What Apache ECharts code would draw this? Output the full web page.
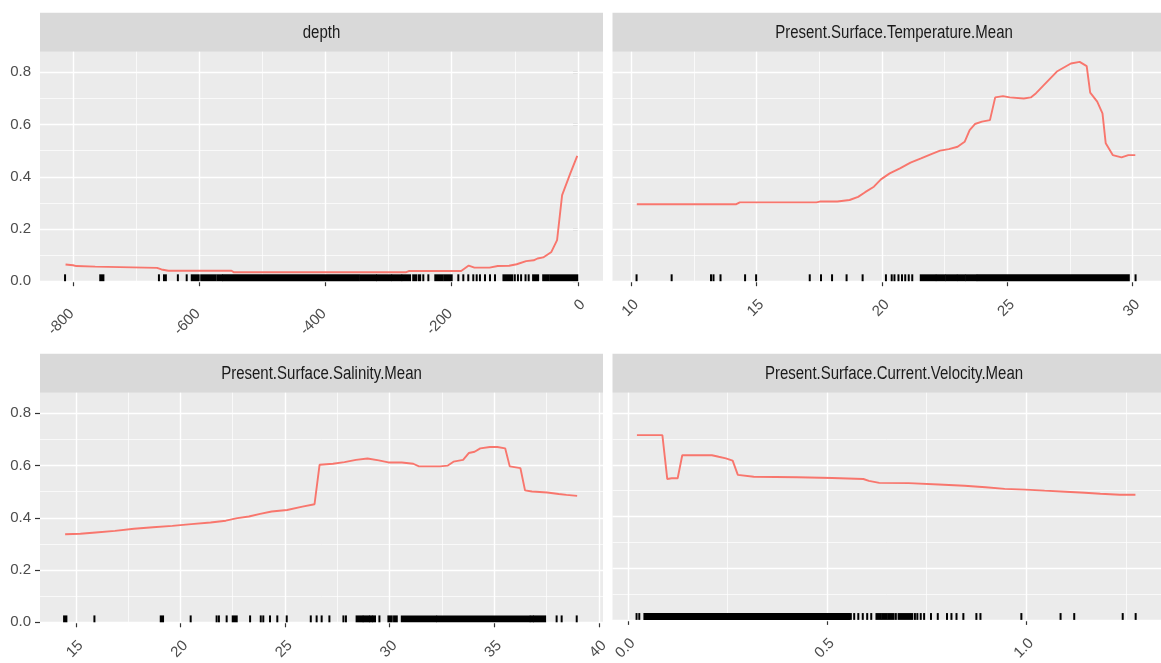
<!DOCTYPE html>
<html><head><meta charset="utf-8">
<script src="https://cdn.jsdelivr.net/npm/echarts@6/dist/echarts.min.js"></script>
<style>html,body{margin:0;padding:0;background:#fff}#c{width:1161px;height:663px}</style>
</head><body><div id="c"></div>
<script>
// ================= DATA =================
const panelTitles = ['depth', 'Present.Surface.Temperature.Mean', 'Present.Surface.Salinity.Mean', 'Present.Surface.Current.Velocity.Mean'];
const yTicks = [0, 0.2, 0.4, 0.6, 0.8];
const yMinor = [0.1, 0.3, 0.5, 0.7];

// depth
const depthX = [-812, -800, -795, -765, -762, -667, -660, -649, -549, -545, -273, -268, -185, -173, -164, -140, -127, -109, -97, -82, -70, -64, -55, -42, -33, -25, -12, -1];
const depthY = [0.064, 0.061, 0.058, 0.056, 0.051, 0.051, 0.045, 0.040, 0.040, 0.034, 0.034, 0.039, 0.039, 0.060, 0.052, 0.052, 0.058, 0.059, 0.065, 0.077, 0.080, 0.087, 0.091, 0.112, 0.157, 0.330, 0.413, 0.480];
const depthTicks = [-800, -600, -400, -200, 0];
const depthMinor = [-700, -500, -300, -100];
const depthRugSingles = [-812.8, -664, -634, -620, -245, -237, -189.5, -181.6, -173.7, -165.8, -160.4, -155.2, -147.2, -139.3, -131.4, -100, -95, -90, -83, -78];
const depthRugRanges = [[-757, -752], [-656, -653], [-612, -601], [-597, -574], [-571, -564], [-562, -347], [-344, -320], [-318, -296], [-294, -280], [-278, -266], [-261, -256], [-252, -250], [-226, -214], [-211, -200], [-118, -104], [-71, -63], [-55, -46], [-43, -1]];

// temperature
const tempX = [10.22, 14.19, 14.33, 17.39, 17.52, 18.22, 18.71, 19.05, 19.33, 19.68, 19.96, 20.31, 20.72, 21.14, 21.56, 21.97, 22.32, 22.67, 23.02, 23.30, 23.50, 23.71, 23.99, 24.31, 24.52, 24.83, 25.10, 25.66, 25.94, 26.15, 26.43, 26.98, 27.54, 27.89, 28.17, 28.31, 28.59, 28.80, 28.93, 29.21, 29.56, 29.83, 30.11];
const tempY = [0.295, 0.295, 0.302, 0.302, 0.305, 0.305, 0.311, 0.323, 0.341, 0.362, 0.390, 0.413, 0.432, 0.454, 0.470, 0.487, 0.500, 0.506, 0.515, 0.534, 0.579, 0.602, 0.611, 0.617, 0.704, 0.709, 0.704, 0.700, 0.704, 0.720, 0.748, 0.803, 0.834, 0.840, 0.824, 0.722, 0.688, 0.643, 0.528, 0.483, 0.474, 0.483, 0.483];
const tempTicks = [10, 15, 20, 25, 30];
const tempMinor = [12.5, 17.5, 22.5, 27.5];
const tempRugSingles = [10.21, 11.61, 13.18, 13.28, 13.56, 14.54, 14.98, 17.12, 17.57, 18.01, 18.59, 19.23, 20.16, 20.39, 20.50, 20.66, 20.80, 20.93, 21.07, 21.21, 30.12];
const tempRugRanges = [[21.55, 22.13], [22.19, 22.51], [22.57, 22.97], [23.03, 23.31], [23.37, 23.76], [23.82, 29.85]];

// salinity
const salX = [14.49, 15.22, 15.95, 16.87, 17.78, 18.69, 19.61, 20.52, 21.44, 22.17, 22.72, 23.27, 23.81, 24.36, 25.10, 25.83, 26.41, 26.65, 27.29, 27.84, 28.39, 28.94, 29.48, 29.94, 30.58, 31.13, 31.40, 32.41, 32.78, 33.05, 33.51, 33.78, 34.06, 34.33, 34.79, 35.15, 35.52, 35.74, 36.25, 36.47, 36.80, 37.53, 38.08, 38.45, 38.96];
const salY = [0.337, 0.339, 0.344, 0.350, 0.358, 0.364, 0.369, 0.376, 0.382, 0.389, 0.399, 0.405, 0.415, 0.424, 0.430, 0.443, 0.452, 0.603, 0.607, 0.613, 0.622, 0.627, 0.620, 0.612, 0.612, 0.607, 0.597, 0.597, 0.600, 0.615, 0.622, 0.648, 0.653, 0.666, 0.671, 0.671, 0.666, 0.597, 0.590, 0.505, 0.501, 0.497, 0.491, 0.488, 0.484];
const salTicks = [15, 20, 25, 30, 35, 40];
const salMinor = [17.5, 22.5, 27.5, 32.5, 37.5];
const salRugSingles = [15.89, 20.49, 21.73, 21.84, 22.21, 23.33, 23.84, 23.96, 24.28, 24.63, 25.08, 26.23, 26.51, 26.75, 27.12, 27.79, 27.91, 29.51, 37.98, 38.22, 38.94];
const salRugRanges = [[14.44, 14.55], [19.06, 19.17], [22.50, 22.69], [28.42, 28.70], [28.76, 29.00], [29.06, 29.16], [29.22, 29.30], [29.94, 30.10], [30.21, 30.34], [30.58, 32.22], [32.28, 36.68], [36.74, 36.84], [36.90, 37.43]];

// current velocity
const velX = [0.0227, 0.0866, 0.0989, 0.110, 0.125, 0.1365, 0.211, 0.228, 0.246, 0.263, 0.276, 0.316, 0.425, 0.430, 0.513, 0.517, 0.591, 0.605, 0.631, 0.705, 0.710, 0.780, 0.784, 0.845, 0.850, 0.898, 0.946, 0.998, 1.046, 1.099, 1.147, 1.186, 1.235, 1.274];
const velY = [0.715, 0.715, 0.545, 0.548, 0.548, 0.637, 0.637, 0.631, 0.625, 0.616, 0.561, 0.554, 0.552, 0.549, 0.549, 0.545, 0.545, 0.538, 0.530, 0.529, 0.525, 0.524, 0.521, 0.519, 0.516, 0.513, 0.507, 0.504, 0.500, 0.496, 0.492, 0.488, 0.484, 0.484];
const velTicks = [0.0, 0.5, 1.0];
const velMinor = [0.25, 0.75, 1.25];
const velRugSingles = [0.0218, 0.0286, 0.5596, 0.5681, 0.5784, 0.5896, 0.6007, 0.6109, 0.6726, 0.7205, 0.7266, 0.7351, 0.7436, 0.7608, 0.7779, 0.8010, 0.8122, 0.8249, 0.8421, 0.8748, 0.8850, 0.9877, 1.0861, 1.1204, 1.2421, 1.2746];
const velRugRanges = [[0.0415, 0.5553], [0.624, 0.635], [0.639, 0.650], [0.654, 0.667], [0.6795, 0.7137]];

// ================= LAYOUT / STYLE =================
const FONT = '"Liberation Sans", Arial, sans-serif';
const FS = 15;
const LINE_COL = '#F8766D';
const panels = [
  {x: depthX, y: depthY, ticks: depthTicks, minor: depthMinor, rs: depthRugSingles, rr: depthRugRanges, min: -852.5, max: 39.8, dec: 0,
   left: 40, top: 51.7, width: 563, height: 229.5, yLabels: true},
  {x: tempX, y: tempY, ticks: tempTicks, minor: tempMinor, rs: tempRugSingles, rr: tempRugRanges, min: 9.25, max: 31.135, dec: 0,
   left: 612.5, top: 51.7, width: 563, height: 229.5, yLabels: false},
  {x: salX, y: salY, ticks: salTicks, minor: salMinor, rs: salRugSingles, rr: salRugRanges, min: 13.289, max: 40.196, dec: 0,
   left: 40, top: 392.7, width: 563, height: 229.6, yLabels: true},
  {x: velX, y: velY, ticks: velTicks, minor: velMinor, rs: velRugSingles, rr: velRugRanges, min: -0.0386, max: 1.3382, dec: 1,
   left: 612.5, top: 392.7, width: 563, height: 229.6, yLabels: false}
];
const STRIP_H = 39;
const Y_MAX = 0.879;
const txt = {color: '#4D4D4D', fontSize: FS, fontFamily: FONT};

const grids = [], xAxes = [], yAxes = [], series = [], graphics = [];
panels.forEach((p, i) => {
  grids.push({left: p.left, top: p.top, width: p.width, height: p.height, show: true,
    backgroundColor: '#EBEBEB', borderWidth: 0, containLabel: false});
  xAxes.push({type: 'value', gridIndex: i, min: p.min, max: p.max,
    axisLine: {show: false},
    axisTick: {show: true, length: 5, customValues: p.ticks, lineStyle: {color: '#333333', width: 1.2}},
    axisLabel: Object.assign({show: true, customValues: p.ticks, rotate: 45, margin: 16,
      formatter: v => {
        const s = Number(v).toFixed(p.dec);
        return v < 0 ? '{n|' + s + '}' : '{p|' + s + '}';
      },
      rich: {n: Object.assign({padding: [18, 11, 0, 0]}, txt), p: Object.assign({padding: [14, 0, 0, 0]}, txt)}}, txt),
    splitLine: {show: false}, minorSplitLine: {show: false}});
  yAxes.push({type: 'value', gridIndex: i, min: 0, max: Y_MAX,
    axisLine: {show: false},
    axisTick: {show: p.yLabels, length: 5, customValues: yTicks, lineStyle: {color: '#333333', width: 1.2}},
    axisLabel: Object.assign({show: p.yLabels, customValues: yTicks, margin: 9,
      formatter: v => Number(v).toFixed(1)}, txt),
    splitLine: {show: false}});
  // gridlines via markLine (through the axes' scales)
  const ml = [];
  p.minor.forEach(v => ml.push({xAxis: v, lineStyle: {width: 0.7}}));
  yMinor.forEach(v => ml.push({yAxis: v, lineStyle: {width: 0.7}}));
  p.ticks.forEach(v => ml.push({xAxis: v, lineStyle: {width: 1.4}}));
  yTicks.forEach(v => ml.push({yAxis: v, lineStyle: {width: 1.4}}));
  const lineData = p.x.map((xv, k) => [xv, p.y[k]]);
  series.push({type: 'line', xAxisIndex: i, yAxisIndex: i, data: lineData, showSymbol: false, symbol: 'none',
    z: 3, lineStyle: {color: LINE_COL, width: 1.9}, silent: true,
    markLine: {silent: true, z: 1, symbol: ['none', 'none'], label: {show: false}, animation: false,
      lineStyle: {color: '#FFFFFF', type: 'solid'}, emphasis: {disabled: true}, data: ml}});
  const rugData = p.rs.map(v => [v, v]).concat(p.rr.map(r => [r[0], r[1]]));
  series.push({type: 'custom', xAxisIndex: i, yAxisIndex: i, data: rugData, z: 3, silent: true,
    encode: {x: [0, 1]},
    renderItem: (params, api) => {
      const a = api.coord([api.value(0), 0]);
      const b = api.coord([api.value(1), 0]);
      const h = params.coordSys.height * 0.03;
      return {type: 'rect', shape: {x: a[0] - 1, y: a[1] - h, width: (b[0] - a[0]) + 2, height: h},
        style: {fill: '#000000'}};
    }});
  // strip
  graphics.push({type: 'rect', left: p.left, top: p.top - STRIP_H, silent: true,
    shape: {width: p.width, height: STRIP_H}, style: {fill: '#D9D9D9'}});
  graphics.push({type: 'text', x: p.left + p.width / 2, y: p.top - STRIP_H / 2 + 1, silent: true,
    scaleY: 1.2,
    style: {text: panelTitles[i], fill: '#1A1A1A', font: FS + 'px ' + FONT, align: 'center', verticalAlign: 'middle'}});
});

const chart = echarts.init(document.getElementById('c'), null, {renderer: 'canvas'});
chart.setOption({
  backgroundColor: '#FFFFFF',
  animation: false,
  grid: grids, xAxis: xAxes, yAxis: yAxes, series: series, graphic: graphics
});
</script></body></html>
